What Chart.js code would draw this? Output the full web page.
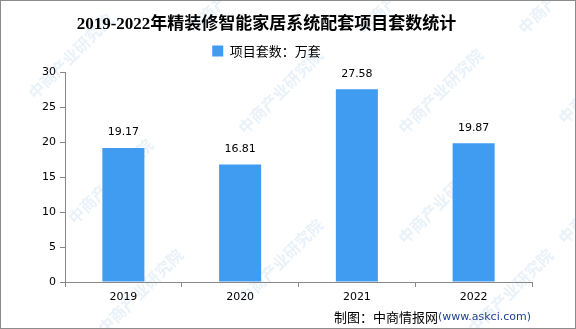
<!DOCTYPE html>
<html>
<head>
<meta charset="utf-8">
<script src="https://cdn.jsdelivr.net/npm/chart.js@4"></script>
<style>
  html, body { margin: 0; padding: 0; background: #fff; }
  #wrap { width: 574px; height: 327px; border: 1px solid #8c8c8c; position: relative; }
</style>
</head>
<body>
<div id="wrap"><canvas id="chart" width="574" height="327"></canvas></div>
<script>
const years = ['2019', '2020', '2021', '2022'];
const projectCounts = [19.17, 16.81, 27.58, 19.87];
const seriesName = '项目套数：万套';
const chartTitle = '2019-2022年精装修智能家居系统配套项目套数统计';

// 水印 + 数值标签 + 制图说明
const extras = {
    id: 'extras',
    beforeDraw(chart) {
        const c = chart.ctx;
        c.save();
        c.font = 'bold 16px "Noto Sans CJK SC"';
        c.fillStyle = 'rgba(120,170,220,0.16)';
        const spots = [[30, 95], [190, 30], [360, 30], [520, 30], [70, 220], [240, 130], [400, 130],
                       [560, 120], [240, 300], [400, 240], [560, 240], [100, 330], [470, 330]];
        spots.forEach(([x, y]) => {
            c.save();
            c.translate(x, y);
            c.rotate(-Math.PI / 4);
            c.fillText('中商产业研究院', 0, 0);
            c.restore();
        });
        c.restore();
    },
    afterDatasetsDraw(chart) {
        const c = chart.ctx;
        const meta = chart.getDatasetMeta(0);
        c.save();
        c.font = '11px "DejaVu Sans"';
        c.fillStyle = '#000';
        c.textAlign = 'center';
        c.textBaseline = 'bottom';
        meta.data.forEach((bar, i) => {
            c.fillText(projectCounts[i].toFixed(2), bar.x, bar.y - 10);
        });
        // 制图
        c.textBaseline = 'middle';
        c.textAlign = 'right';
        c.font = '11px "DejaVu Sans"';
        c.fillStyle = '#1f3f8f';
        const src = '(www.askci.com)';
        c.fillText(src, 530, 316);
        const w = c.measureText(src).width;
        c.font = '13px "Noto Sans CJK SC"';
        c.fillStyle = '#000';
        c.fillText('制图：中商情报网', 530 - w, 316);
        c.restore();
    }
};

const ctx = document.getElementById('chart').getContext('2d');
new Chart(ctx, {
    type: 'bar',
    data: {
        labels: years,
        datasets: [{
            label: seriesName,
            data: projectCounts,
            backgroundColor: '#3f9cf0',
            barPercentage: 0.36,
            categoryPercentage: 1.0
        }]
    },
    options: {
        responsive: false,
        animation: false,
        layout: { padding: { left: 0, right: 43, top: 0, bottom: 0 } },
        plugins: {
            title: {
                display: true,
                text: chartTitle,
                color: '#000',
                font: { family: '"Liberation Serif", "Noto Sans CJK SC"', size: 17, weight: 'bold' },
                padding: { top: 13, bottom: 1 }
            },
            // 图例下方留白
            subtitle: {
                display: true,
                text: '',
                weight: 500,
                font: { size: 1, lineHeight: 1 },
                padding: { top: 0, bottom: 4 }
            },
            legend: {
                display: true,
                labels: {
                    color: '#000',
                    font: { family: '"Noto Sans CJK SC"', size: 13 },
                    boxWidth: 11,
                    boxHeight: 11,
                    padding: 9
                }
            },
            tooltip: { enabled: false }
        },
        scales: {
            x: {
                grid: { offset: true, drawOnChartArea: false, tickLength: 5, color: '#888' },
                border: { color: '#888' },
                ticks: { color: '#000', font: { family: '"DejaVu Sans"', size: 11 }, padding: 4 },
                afterFit(scale) { scale.height = 46; }
            },
            y: {
                min: 0,
                max: 30,
                grid: { drawOnChartArea: false, tickLength: 5, color: '#888' },
                border: { color: '#888' },
                ticks: { stepSize: 5, color: '#000', font: { family: '"DejaVu Sans"', size: 11 }, padding: 4 },
                afterFit(scale) { scale.width = 64; }
            }
        }
    },
    plugins: [extras]
});
</script>
</body>
</html>
